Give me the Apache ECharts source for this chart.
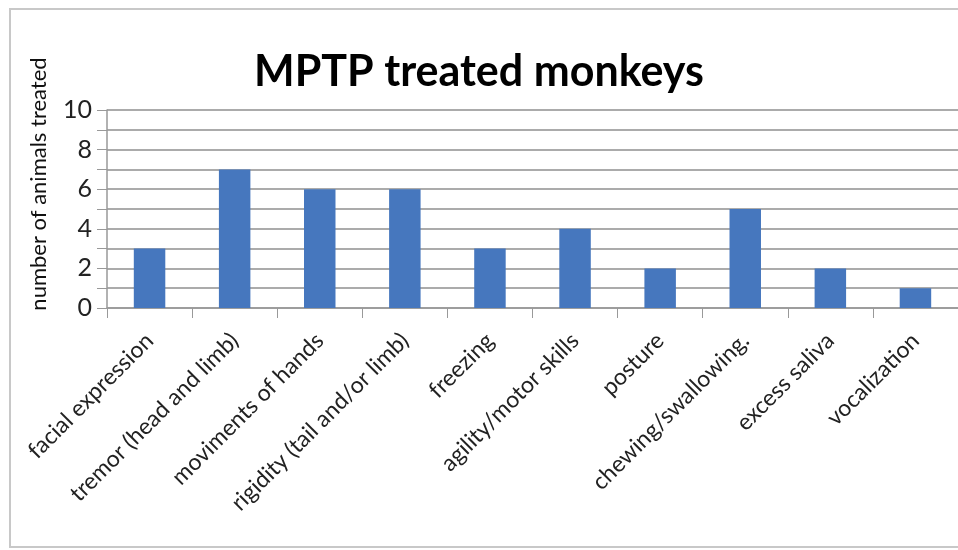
<!DOCTYPE html>
<html><head><meta charset="utf-8">
<script src="https://cdn.jsdelivr.net/npm/echarts@6/dist/echarts.min.js"></script>
<style>html,body{margin:0;padding:0;background:#fff}#c{width:958px;height:550px}</style>
</head><body><div id="c"></div>
<script>
const categories = ["facial expression","tremor (head and limb)","moviments of hands","rigidity (tail and/or limb)","freezing","agility/motor skills","posture","chewing/swallowing.","excess saliva","vocalization"];
const values = [3,7,6,6,3,4,2,5,2,1];
const yTicks = [0,2,4,6,8,10];

const chart = echarts.init(document.getElementById('c'));
chart.setOption({
  backgroundColor: '#fff',
  animation: false,
  title: {
    text: 'MPTP treated monkeys',
    left: 'center', top: 46,
    textStyle: {fontFamily: 'Lato', fontWeight: 'bold', fontSize: 43, color: '#000'}
  },
  graphic: [{type:'rect', shape:{x:10,y:9,width:960,height:538}, style:{fill:'none', stroke:'#c8c8c8', lineWidth:2}, silent:true}],
  grid: {left: 107, right: -9, top: 110, bottom: 242},
  xAxis: {
    type: 'category', data: categories,
    axisLine: {lineStyle: {color: '#999', width: 1.5}},
    axisTick: {show: true, length: 10, lineStyle: {color: '#999'}},
    axisLabel: {rotate: 45, margin: 29, color: '#222', fontFamily: 'Lato', fontSize: 23, interval: 0}
  },
  yAxis: {
    type: 'value', min: 0, max: 10, interval: 1,
    name: 'number of animals treated', nameLocation: 'middle', nameGap: 57,
    nameTextStyle: {fontFamily: 'Lato', fontSize: 22, color: '#111', padding: [0, 0, 0, 50]},
    axisLine: {show: true, lineStyle: {color: '#999', width: 1.5}},
    axisTick: {show: true, length: 10, lineStyle: {color: '#999'}},
    axisLabel: {margin: 15, color: '#222', fontFamily: 'Lato', fontSize: 25,
      formatter: v => yTicks.indexOf(v) >= 0 ? String(v) : ''},
    splitLine: {lineStyle: {color: '#8f8f8f', width: 1.5}}
  },
  series: [{
    type: 'bar', data: values, barWidth: '37%',
    itemStyle: {color: '#4677be'}
  }]
});
</script></body></html>
